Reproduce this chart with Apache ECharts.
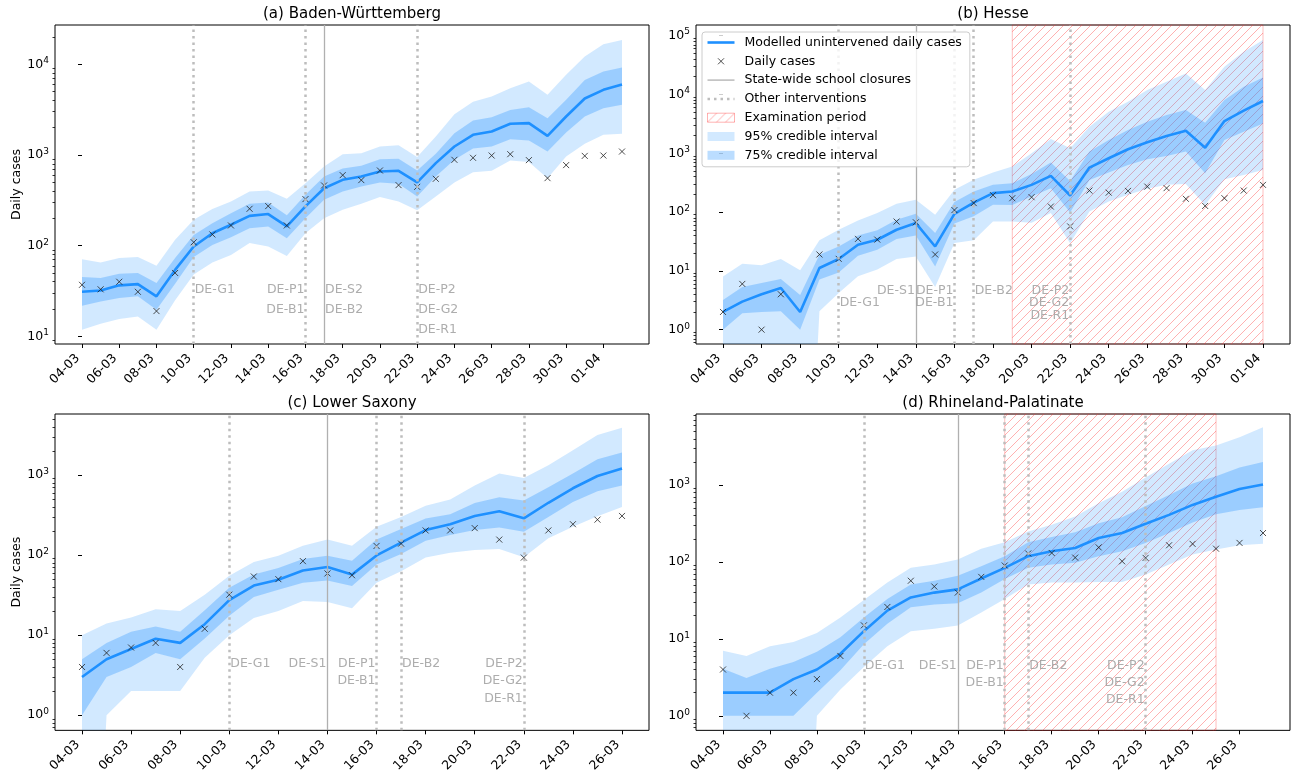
<!DOCTYPE html>
<html><head><meta charset="utf-8">
<script src="https://cdn.jsdelivr.net/npm/echarts@6/dist/echarts.min.js"></script>
<style>html,body{margin:0;padding:0;background:#fff}#c{width:1293px;height:775px}</style>
</head><body><div id="c"></div><script>
// ---------------- data ----------------
const dates = ['04-03','05-03','06-03','07-03','08-03','09-03','10-03','11-03','12-03','13-03','14-03','15-03','16-03','17-03','18-03','19-03','20-03','21-03','22-03','23-03','24-03','25-03','26-03','27-03','28-03','29-03','30-03','31-03','01-04','02-04'];

// (a) Baden-Württemberg
const casesA   = [37,33,40,31,19,50,109,133,167,255,273,167,326,461,599,528,674,465,445,546,884,930,986,1020,877,555,773,977,986,1091];
const modelA   = [31,32,36.5,37.7,27.6,54,98,137,170,213,223,163,271,430,532,579,658,669,498,813,1240,1667,1815,2205,2243,1626,2656,4190,5220,5980];
const upper95A = [71,65,73,75,60,116,193,253,307,396,406,329,489,746,1020,1047,1240,1282,947,1596,2817,3850,4405,5450,6450,4600,7640,12160,16640,18540];
const lower95A = [11.8,13.8,15.5,16.6,11.8,25,48,65,79,107,98,77,137,201,249,290,343,307,245,349,498,646,669,869,834,555,962,1327,1667,1710];
const upper75A = [45,44,49,50,38.7,73,131,177,228,290,299,217,364,579,709,759,899,906,674,1030,1740,2400,2610,3140,3360,2545,4050,6720,8300,9200];
const lower75A = [21.8,24.3,26.5,27.6,19.7,38,75,102,124,156,163,121,201,320,396,450,498,481,349,579,884,1177,1240,1494,1444,1091,1767,2656,3280,3568];
const otherA   = [6,12,18];
const schoolA  = [13];
const examA    = null;
const notesA   = [[6,0,'DE-G1','left'],[12,0,'DE-P1','right'],[12,1,'DE-B1','right'],[13,0,'DE-S2','left'],[13,1,'DE-B2','left'],[18,0,'DE-P2','left'],[18,1,'DE-G2','left'],[18,2,'DE-R1','left']];
const rowsA    = [32.7,19.7,11.8];

// (b) Hesse
const casesB   = [2,6,1,4,null,19,16,35,34,69,67,19,108,142,194,172,179,124,57,232,214,229,271,255,168,127,172,232,290];
const modelB   = [2.0,3.0,4.0,5.1,2.0,11.2,15.9,27.8,33.8,50,65,26,93,145,210,223,290,412,191,570,822,1170,1538,1968,2420,1245,3530,5290,7730];
const upper95B = [8.0,13.2,12.4,15.9,10.2,33,50,72,96,138,162,90,239,353,471,593,1000,1750,1216,2830,5100,7530,11900,16400,22800,11900,29500,53000,84000];
const lower95B = [0,0,0,0,0,2.05,4.2,8.1,10.5,15.9,17.6,5.3,29.7,33,69,69,66,96,29.6,102,151,196,248,290,301,132,361,428,520];
const upper75B = [3.2,5.3,6.2,7.3,3.9,18.8,26,40,49,74,94,44,148,224,291,309,445,693,339,1066,1683,2490,3440,4470,5430,3310,8030,13500,19500];
const lower75B = [1.0,1.9,2.0,2.05,1.0,7.1,9.4,18,22.9,34.7,40,11.9,64,85,133,132,183,255,98,352,469,632,790,900,1066,457,1683,2330,3220];
const otherB   = [6,12,13,18];
const schoolB  = [10];
const examB    = [15,28];
const notesB   = [[6,1,'DE-G1','left'],[10,0,'DE-S1','right'],[12,0,'DE-P1','right'],[12,1,'DE-B1','right'],[13,0,'DE-B2','left'],[18,0,'DE-P2','right'],[18,1,'DE-G2','right'],[18,2,'DE-R1','right']];
const rowsB    = [4.64,2.82,1.72];

// (c) Lower Saxony
const casesC   = [4,6,7,8,4,12,32,54,50,84,59,56,130,139,203,203,217,156,93,203,243,277,308];
const modelC   = [3,5,6.7,9,8,13.7,27.4,41.6,49.3,64,71,57,99,143,205,243,308,352,288,450,683,971,1208];
const upper95C = [10,14,16.6,21,20,32,55,82,98,131,157,131,225,299,413,495,738,1047,918,1327,2035,3150,3880];
const lower95C = [0,1,2,2,2,5.2,10,16.4,20,26.7,26,21.6,45,62.6,93,107,116,119,94,162,225,305,398];
const upper75C = [5,8,11,12.8,11,20.4,39,57,69,89,98,85,157,211,286,323,446,529,481,703,1047,1575,1905];
const lower75C = [1,3,4,6,5,9.1,17.4,30,37,45,48,41,76,103,151,178,205,221,195,299,459,628,738];
const otherC   = [6,12,13,18];
const schoolC  = [10];
const examC    = null;
const notesC   = [[6,0,'DE-G1','left'],[10,0,'DE-S1','right'],[12,0,'DE-P1','right'],[12,1,'DE-B1','right'],[13,0,'DE-B2','left'],[18,0,'DE-P2','right'],[18,1,'DE-G2','right'],[18,2,'DE-R1','right']];
const rowsC    = [4.39,2.66,1.59];

// (d) Rhineland-Palatinate
const casesD   = [4,1,2,2,3,6,15,26,57,48,40,64,90,129,131,114,155,102,113,165,172,149,177,238];
const modelD   = [2,2,2,3,4,6.4,12.6,23.3,34.6,40,44,61,84,119,138,152,205,238,314,410,552,707,887,1019];
const upper95D = [7,6,8,9.1,11.9,19,32,54,84,93,108,149,180,250,305,390,580,820,1254,1900,2826,3276,4200,5650];
const lower95D = [0,0,0,0,1,2.2,4.3,8,12.6,13.5,14.9,22,33,51,54,54,55,55,69,93,125,145,165,173];
const upper75D = [4.1,3.1,4.1,5,6.8,10.5,19,33,51,57,66,88,119,180,211,243,320,383,535,743,1050,1306,1688,1995];
const lower75D = [1,1,1,1,2,3.9,8.5,15.7,25.7,27.9,29,40,60,84,93,98,119,138,177,238,326,418,475,515];
const otherD   = [6,12,13,18];
const schoolD  = [10];
const examD    = [12,21];
const notesD   = [[6,0,'DE-G1','left'],[10,0,'DE-S1','right'],[12,0,'DE-P1','right'],[12,1,'DE-B1','right'],[13,0,'DE-B2','left'],[18,0,'DE-P2','right'],[18,1,'DE-G2','right'],[18,2,'DE-R1','right']];
const rowsD    = [4.46,2.69,1.61];

const titles = ['(a) Baden-Württemberg','(b) Hesse','(c) Lower Saxony','(d) Rhineland-Palatinate'];
const legendNames = ['Modelled unintervened daily cases','Daily cases','State-wide school closures','Other interventions','Examination period','95% credible interval','75% credible interval'];

// ---------------- layout / style ----------------
const GRIDS = [
  {left:55, top:25, width:594, height:319},
  {left:696, top:25, width:594, height:319},
  {left:55, top:414, width:594, height:320},
  {left:696, top:414, width:594, height:320}
];
const TITLE_TOP = [7,7,396,396];
const XRANGE = [[-1.45,30.45],[-1.4,29.4],[-1.1,23.1],[-1.15,24.15]];
const YRANGE = [[8.235,27100],[0.5705,151700],[0.6464,5781],[0.647,8395]];
const FONT = 'DejaVu Sans';
const BLUE = '#1E90FF';
const C95 = 'rgba(30,144,255,0.2)';
const C75 = 'rgba(30,144,255,0.3)';
const DOT_GREY = '#bdbdbd';
const SOLID_GREY = '#b0b0b0';

const panels = [
  {cases:casesA, model:modelA, hi95:upper95A, lo95:lower95A, hi75:upper75A, lo75:lower75A, other:otherA, school:schoolA, exam:examA, notes:notesA, rows:rowsA},
  {cases:casesB, model:modelB, hi95:upper95B, lo95:lower95B, hi75:upper75B, lo75:lower75B, other:otherB, school:schoolB, exam:examB, notes:notesB, rows:rowsB},
  {cases:casesC, model:modelC, hi95:upper95C, lo95:lower95C, hi75:upper75C, lo75:lower75C, other:otherC, school:schoolC, exam:examC, notes:notesC, rows:rowsC},
  {cases:casesD, model:modelD, hi95:upper95D, lo95:lower95D, hi75:upper75D, lo75:lower75D, other:otherD, school:schoolD, exam:examD, notes:notesD, rows:rowsD}
];

const HATCH = (function(){
  const s = 9, c = document.createElement('canvas'); c.width = s; c.height = s;
  const g = c.getContext('2d');
  g.strokeStyle = 'rgba(255,70,70,0.42)'; g.lineWidth = 1;
  g.beginPath();
  g.moveTo(-2, s+2); g.lineTo(s+2, -2);
  g.moveTo(-2, 2); g.lineTo(2, -2);
  g.moveTo(s-2, s+2); g.lineTo(s+2, s-2);
  g.stroke();
  return c;
})();
const hatchColor = {image: HATCH, repeat: 'repeat'};

const TINY = 1e-6; // zero values cannot sit on a log axis
const pos = v => (v > 0 ? v : TINY);

function logTicks(lo, hi, minor){
  const out = [];
  for (let e = Math.floor(Math.log10(lo)) - 1; e <= Math.ceil(Math.log10(hi)) + 1; e++){
    const ks = minor ? [2,3,4,5,6,7,8,9] : [1];
    ks.forEach(k => { const v = k * Math.pow(10, e); if (v >= lo && v <= hi) out.push(v); });
  }
  return out;
}

// credible-interval band drawn as one polygon through the axis scales
function bandSeries(i, lo, hi, color){
  return {
    type: 'custom', xAxisIndex: i, yAxisIndex: 2*i, silent: true, z: 2,
    data: [[0, 1]],
    renderItem: (params, api) => {
      const pts = [];
      for (let d = 0; d < hi.length; d++) pts.push(api.coord([d, pos(hi[d])]));
      for (let d = lo.length - 1; d >= 0; d--) pts.push(api.coord([d, pos(lo[d])]));
      const cs = params.coordSys;
      return {type: 'group',
        clipPath: {type: 'rect', shape: {x: cs.x, y: cs.y, width: cs.width, height: cs.height}},
        children: [{type: 'polygon', shape: {points: pts}, style: {fill: color}}]};
    }
  };
}

// legend handle shapes (32 x 9 box, handle drawn in the left 27 px)
const ICON_THICK = 'path://M0,0M32,9M0,3.2H27V5.8H0Z';
const ICON_THIN  = 'path://M0,0M32,9M0,3.85H27V5.15H0Z';
const ICON_DOTS  = 'path://M0,0M32,9M0,3.25h2.5v2.5h-2.5zM6.5,3.25h2.5v2.5h-2.5zM13,3.25h2.5v2.5h-2.5zM19.5,3.25h2.5v2.5h-2.5zM26,3.25h1v2.5h-1z';
const ICON_X     = 'path://M0,0M32,9M10.5,1.5L16.5,7.5M16.5,1.5L10.5,7.5';
const ICON_RECT  = 'path://M0,0M32,9M0,0H27V9H0Z';

const option = {
  animation: false,
  backgroundColor: '#fff',
  textStyle: {fontFamily: FONT},
  title: [], grid: [], xAxis: [], yAxis: [], series: [],
  legend: {
    orient: 'vertical', left: 702, top: 32, z: 20,
    padding: [4, 8, 5, 5], itemGap: 5.8, itemWidth: 32, itemHeight: 9,
    backgroundColor: 'rgba(255,255,255,0.8)', borderColor: '#cccccc', borderWidth: 1, borderRadius: 3,
    selectedMode: false,
    textStyle: {fontSize: 12.5, color: '#000', fontFamily: FONT},
    data: [
      {name: legendNames[0], icon: ICON_THICK, itemStyle: {color: BLUE, borderWidth: 0}},
      {name: legendNames[1], icon: ICON_X, itemStyle: {borderWidth: 1, borderColor: '#222', color: 'rgba(0,0,0,0)'}},
      {name: legendNames[2], icon: ICON_THIN, itemStyle: {color: SOLID_GREY, borderWidth: 0}},
      {name: legendNames[3], icon: ICON_DOTS, itemStyle: {color: DOT_GREY, borderWidth: 0}},
      {name: legendNames[4], icon: ICON_RECT, itemStyle: {color: hatchColor, borderWidth: 1, borderColor: 'rgba(255,0,0,0.3)'}},
      {name: legendNames[5], icon: ICON_RECT, itemStyle: {color: C95, borderWidth: 0}},
      {name: legendNames[6], icon: ICON_RECT, itemStyle: {color: C75, borderWidth: 0}}
    ]
  }
};

panels.forEach((p, i) => {
  const isB = (i === 1);
  const g = GRIDS[i];
  option.grid.push(Object.assign({show: true, borderColor: '#000', borderWidth: 1, backgroundColor: 'rgba(0,0,0,0)'}, g));
  option.title.push({text: titles[i], left: g.left + g.width/2, top: TITLE_TOP[i], textAlign: 'center', padding: 0,
    textStyle: {fontSize: 15, fontWeight: 'normal', color: '#000', fontFamily: FONT}});

  const n = p.model.length;
  const xt = []; for (let d = 0; d < n; d += 2) xt.push(d);
  option.xAxis.push({
    type: 'value', gridIndex: i, min: XRANGE[i][0], max: XRANGE[i][1],
    splitLine: {show: false}, axisLine: {show: false},
    axisTick: {show: true, length: 4, lineStyle: {color: '#000', width: 1}, customValues: xt},
    axisLabel: {customValues: xt, rotate: 45, margin: 8, padding: [0,6,0,0], fontSize: 12.5, color: '#000', fontFamily: FONT,
      formatter: v => dates[Math.round(v)]}
  });

  const majors = logTicks(YRANGE[i][0], YRANGE[i][1], false);
  const minors = logTicks(YRANGE[i][0], YRANGE[i][1], true);
  option.yAxis.push({
    type: 'log', logBase: 10, gridIndex: i, position: 'left', min: YRANGE[i][0], max: YRANGE[i][1],
    splitLine: {show: false}, axisLine: {show: false},
    axisTick: {show: true, length: 4, lineStyle: {color: '#000', width: 1}, customValues: majors},
    axisLabel: {customValues: majors, margin: 6,
      formatter: v => '{b|10}{s|' + Math.round(Math.log10(v)) + '}',
      rich: {b: {fontSize: 12.5, color: '#000', fontFamily: FONT, verticalAlign: 'middle'},
             s: {fontSize: 9, color: '#000', fontFamily: FONT, padding: [0,0,7,0], verticalAlign: 'middle'}}},
    name: (i % 2 === 0) ? 'Daily cases' : '', nameLocation: 'middle', nameGap: 32, nameRotate: 90,
    nameTextStyle: {fontSize: 12.5, color: '#000', fontFamily: FONT}
  });
  option.yAxis.push({
    type: 'log', logBase: 10, gridIndex: i, position: 'left', min: YRANGE[i][0], max: YRANGE[i][1],
    splitLine: {show: false}, axisLine: {show: false}, axisLabel: {show: false},
    axisTick: {show: true, length: 2.5, lineStyle: {color: '#000', width: 0.8}, customValues: minors}
  });

  const base = {xAxisIndex: i, yAxisIndex: 2*i, silent: true};

  // examination period (hatched span)
  if (p.exam) {
    option.series.push(Object.assign({}, base, {
      type: 'bar', name: isB ? legendNames[4] : 'exam-' + i, data: [], z: 1,
      itemStyle: {color: hatchColor, borderColor: 'rgba(255,0,0,0.3)', borderWidth: 1},
      markArea: {silent: true, z: 1, itemStyle: {color: hatchColor, borderColor: 'rgba(255,0,0,0.25)', borderWidth: 1},
        data: [[{xAxis: p.exam[0]}, {xAxis: p.exam[1]}]]}
    }));
  }
  // credible bands
  option.series.push(bandSeries(i, p.lo95, p.hi95, C95));
  option.series.push(bandSeries(i, p.lo75, p.hi75, C75));
  // vertical intervention lines
  option.series.push(Object.assign({}, base, {type: 'line', name: isB ? legendNames[3] : 'other-' + i, data: [], symbol: 'none',
    lineStyle: {color: DOT_GREY, width: 2.5, type: [2.5, 4]}, itemStyle: {color: DOT_GREY},
    markLine: {silent: true, symbol: ['none','none'], label: {show: false}, animation: false,
      lineStyle: {color: DOT_GREY, width: 2.5, type: [2.5, 4]},
      emphasis: {disabled: true}, data: p.other.map(d => ({xAxis: d}))}}));
  option.series.push(Object.assign({}, base, {type: 'line', name: isB ? legendNames[2] : 'school-' + i, data: [], symbol: 'none',
    lineStyle: {color: SOLID_GREY, width: 1.3}, itemStyle: {color: SOLID_GREY},
    markLine: {silent: true, symbol: ['none','none'], label: {show: false}, animation: false,
      lineStyle: {color: SOLID_GREY, width: 1.3, type: 'solid'},
      emphasis: {disabled: true}, data: p.school.map(d => ({xAxis: d}))}}));
  // modelled line
  option.series.push(Object.assign({}, base, {type: 'line', name: isB ? legendNames[0] : 'model-' + i,
    data: p.model.map((v, d) => [d, v]), symbol: 'none', lineStyle: {color: BLUE, width: 2.6}, itemStyle: {color: BLUE}, z: 3}));
  // observed daily cases
  option.series.push(Object.assign({}, base, {type: 'scatter', name: isB ? legendNames[1] : 'cases-' + i,
    data: p.cases.map((v, d) => (v == null || v <= 0) ? null : [d, v]).filter(Boolean),
    symbol: 'path://M0,0L10,10M10,0L0,10', symbolSize: 6,
    itemStyle: {color: 'rgba(0,0,0,0)', borderColor: '#222', borderWidth: 1}, z: 4}));
  // intervention labels
  option.series.push(Object.assign({}, base, {type: 'scatter', name: 'notes-' + i, symbolSize: 0,
    itemStyle: {color: 'rgba(0,0,0,0)'}, z: 6,
    label: {show: true, formatter: '{b}', distance: 1, fontSize: 12.5, color: '#999999', fontFamily: FONT, verticalAlign: 'middle'},
    data: p.notes.map(nt => ({name: nt[2], value: [nt[0], p.rows[nt[1]]],
      label: {position: nt[3] === 'left' ? 'right' : 'left', align: nt[3]}}))}));
  if (isB) {
    option.series.push(Object.assign({}, base, {type: 'bar', name: legendNames[5], data: [], itemStyle: {color: C95}}));
    option.series.push(Object.assign({}, base, {type: 'bar', name: legendNames[6], data: [], itemStyle: {color: C75}}));
  }
});

const chart = echarts.init(document.getElementById('c'), null, {renderer: 'canvas'});
chart.setOption(option);
</script></body></html>
